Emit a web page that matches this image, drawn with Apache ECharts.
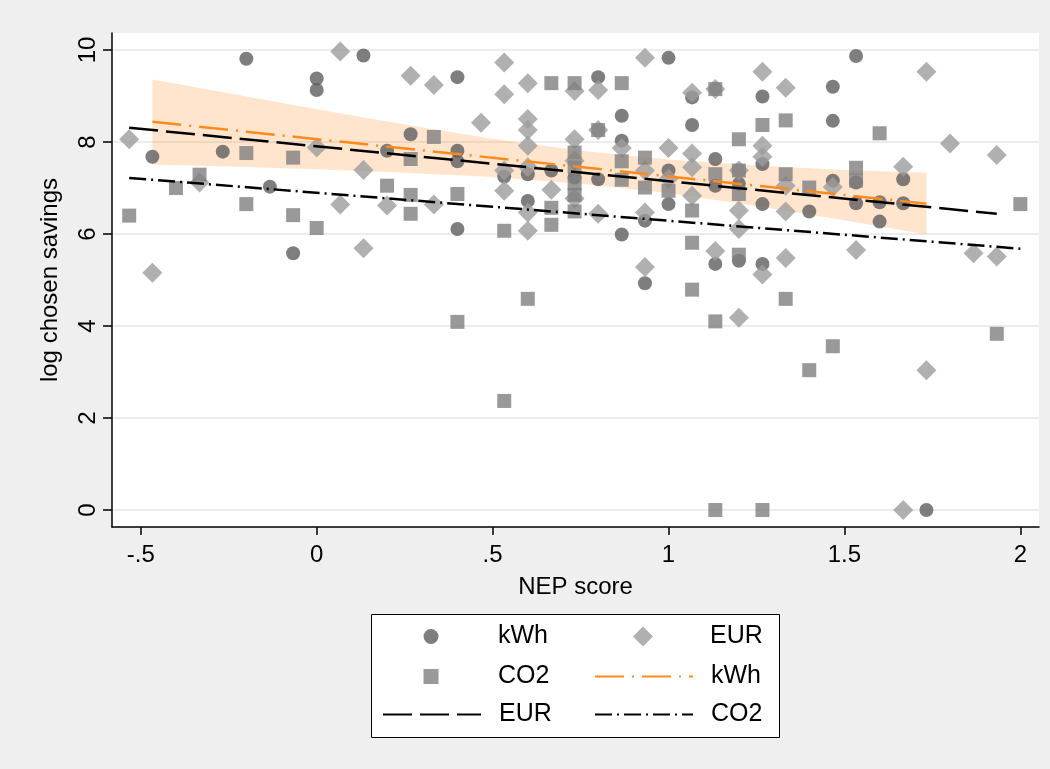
<!DOCTYPE html>
<html>
<head>
<meta charset="utf-8">
<title>log chosen savings by NEP score</title>
<script src="https://cdn.jsdelivr.net/npm/echarts@6.0.0/dist/echarts.min.js"></script>
<style>
  html, body { margin: 0; padding: 0; background: #efefef; }
  #chart { width: 1050px; height: 769px; }
</style>
</head>
<body>
<div id="chart"></div>
<script>
let FONT = '"Liberation Sans", Arial, sans-serif';

// tick labels (Stata style)
let xTickValues = [-0.5, 0, 0.5, 1, 1.5, 2];
let xTickLabels = ['-.5', '0', '.5', '1', '1.5', '2'];
let yTickValues = [0, 2, 4, 6, 8, 10];
let yTickLabels = ['0', '2', '4', '6', '8', '10'];

// scatter points [NEP score, log chosen savings]
let kwhPoints = [
  [-0.467, 7.68], [-0.267, 7.79], [-0.2, 9.81], [-0.133, 7.03], [-0.067, 5.58],
  [0, 9.38], [0, 9.13], [0.133, 9.88], [0.2, 7.81], [0.267, 8.17],
  [0.4, 9.41], [0.4, 7.81], [0.4, 7.58], [0.4, 6.11], [0.533, 7.25],
  [0.6, 7.3], [0.6, 6.72], [0.667, 7.38], [0.733, 7.23], [0.8, 9.41],
  [0.8, 7.19], [0.867, 8.57], [0.867, 8.03], [0.867, 5.99], [0.933, 6.29],
  [0.933, 4.93], [1.0, 9.83], [1.0, 7.38], [1.0, 6.65], [1.067, 8.97],
  [1.067, 8.37], [1.133, 7.63], [1.133, 7.05], [1.133, 5.35], [1.2, 7.09],
  [1.2, 5.42], [1.267, 8.99], [1.267, 7.52], [1.267, 6.65], [1.267, 5.35],
  [1.4, 6.49], [1.467, 9.2], [1.467, 8.46], [1.467, 7.16], [1.533, 9.87],
  [1.533, 7.12], [1.533, 6.67], [1.6, 6.69], [1.6, 6.27], [1.667, 7.19],
  [1.667, 6.67], [1.733, 0]
];
let eurPoints = [
  [-0.533, 8.06], [-0.467, 5.16], [-0.333, 7.12], [0, 7.88], [0.067, 9.97],
  [0.067, 6.64], [0.133, 7.39], [0.133, 5.69], [0.2, 6.62], [0.267, 9.44],
  [0.333, 9.24], [0.333, 6.64], [0.467, 8.42], [0.533, 9.73], [0.533, 9.04],
  [0.533, 7.38], [0.533, 6.94], [0.6, 9.28], [0.6, 8.5], [0.6, 8.26],
  [0.6, 7.92], [0.6, 7.45], [0.6, 6.47], [0.6, 6.07], [0.667, 6.96],
  [0.733, 9.11], [0.733, 8.06], [0.733, 7.59], [0.733, 6.77], [0.8, 9.13],
  [0.8, 8.26], [0.8, 6.44], [0.867, 7.87], [0.933, 9.83], [0.933, 7.38],
  [0.933, 6.47], [0.933, 5.28], [1.0, 7.87], [1.0, 7.2], [1.067, 9.07],
  [1.067, 7.75], [1.067, 7.45], [1.067, 6.83], [1.133, 9.15], [1.133, 5.63],
  [1.2, 7.38], [1.2, 6.51], [1.2, 6.11], [1.2, 4.18], [1.267, 9.53],
  [1.267, 7.92], [1.267, 7.68], [1.267, 5.12], [1.333, 9.18], [1.333, 7.05],
  [1.333, 6.49], [1.333, 5.48], [1.467, 7.02], [1.533, 5.65], [1.667, 7.46],
  [1.667, 0], [1.733, 9.53], [1.733, 3.04], [1.8, 7.97], [1.867, 5.58],
  [1.933, 7.72], [1.933, 5.51]
];
let co2Points = [
  [-0.533, 6.4], [-0.4, 7.0], [-0.333, 7.29], [-0.2, 7.76], [-0.2, 6.65],
  [-0.067, 7.66], [-0.067, 6.41], [0, 6.13], [0.2, 7.05], [0.267, 7.63],
  [0.267, 6.85], [0.267, 6.44], [0.333, 8.11], [0.4, 6.87], [0.4, 4.09],
  [0.533, 6.07], [0.533, 2.37], [0.6, 4.59], [0.667, 9.28], [0.667, 6.57],
  [0.667, 6.2], [0.733, 9.28], [0.733, 7.77], [0.733, 7.45], [0.733, 7.1],
  [0.733, 6.85], [0.733, 6.49], [0.8, 8.26], [0.867, 9.28], [0.867, 7.58],
  [0.867, 7.18], [0.933, 7.66], [0.933, 7.01], [1.0, 6.94], [1.067, 6.51],
  [1.067, 5.81], [1.067, 4.79], [1.133, 9.15], [1.133, 7.3], [1.133, 4.1],
  [1.133, 0], [1.2, 8.06], [1.2, 7.38], [1.2, 6.87], [1.2, 5.55],
  [1.267, 8.37], [1.267, 0], [1.333, 8.47], [1.333, 7.3], [1.333, 4.59],
  [1.4, 7.01], [1.4, 3.04], [1.467, 3.56], [1.533, 7.44], [1.533, 7.16],
  [1.6, 8.19], [1.933, 3.83], [2.0, 6.65]
];

// linear fits (end points)
let kwhFit = [[-0.467, 8.44], [1.733, 6.66]];
let eurFit = [[-0.533, 8.31], [1.933, 6.44]];
let co2Fit = [[-0.533, 7.22], [2.0, 5.68]];

// 95% CI band of the kWh fit
let bandX = [-0.467, -0.25, 0, 0.25, 0.5, 0.75, 1.0, 1.25, 1.5, 1.733];
let bandUpper = [9.36, 9.06, 8.71, 8.38, 8.07, 7.81, 7.62, 7.49, 7.39, 7.33];
let bandLower = [7.51, 7.47, 7.41, 7.33, 7.24, 7.09, 6.89, 6.61, 6.30, 5.99];

let chart = echarts.init(document.getElementById('chart'), null, { renderer: 'canvas' });

// legend keys are 98px wide; marker keys get a box of their own size,
// centred in that slot, with text padding so labels still line up
let KEY_W = 98;
function legendItem(name, keyLeft, top, size, isLine) {
  let l = {
    data: [name],
    top: top,
    padding: 0,
    itemHeight: size,
    selectedMode: false,
    formatter: function (n) { return n.replace(' fit', ''); },
    textStyle: { fontFamily: FONT, fontSize: 25, color: '#000' }
  };
  if (isLine) {
    l.left = keyLeft;
    l.itemWidth = KEY_W;
    l.itemStyle = { opacity: 0 };
    l.textStyle.padding = [0, 0, 0, 13];
  } else {
    l.left = keyLeft + (KEY_W - size) / 2;
    l.itemWidth = size;
    l.textStyle.padding = [0, 0, 0, 13 + (KEY_W - size) / 2];
  }
  return l;
}

let option = {
  animation: false,
  backgroundColor: '#efefef',
  textStyle: { fontFamily: FONT },
  grid: {
    left: 112, top: 33, right: 11, bottom: 242,
    show: true, backgroundColor: '#ffffff', borderWidth: 0
  },
  xAxis: {
    type: 'value',
    min: -0.5818, max: 2.053,
    name: 'NEP score',
    nameLocation: 'middle',
    nameGap: 48,
    nameTextStyle: { fontSize: 24, color: '#000', fontFamily: FONT },
    axisLine: { show: true, onZero: false, lineStyle: { color: '#000', width: 1.5 } },
    axisTick: { show: true, length: 8, customValues: xTickValues, lineStyle: { color: '#000', width: 1.5 } },
    axisLabel: {
      customValues: xTickValues,
      margin: 16,
      fontSize: 24, color: '#000', fontFamily: FONT,
      formatter: function (v) {
        let i = xTickValues.indexOf(v);
        return i >= 0 ? xTickLabels[i] : '';
      }
    },
    splitLine: { show: false }
  },
  yAxis: {
    type: 'value',
    min: -0.37, max: 10.37,
    name: 'log chosen savings',
    nameLocation: 'middle',
    nameRotate: 90,
    nameGap: 50,
    nameTextStyle: { fontSize: 24, color: '#000', fontFamily: FONT },
    axisLine: { show: true, onZero: false, lineStyle: { color: '#000', width: 1.5 } },
    axisTick: { show: true, length: 9, customValues: yTickValues, lineStyle: { color: '#000', width: 1.5 } },
    axisLabel: {
      customValues: yTickValues,
      rotate: 90,
      margin: 12,
      fontSize: 24, color: '#000', fontFamily: FONT,
      formatter: function (v) {
        let i = yTickValues.indexOf(v);
        return i >= 0 ? yTickLabels[i] : '';
      }
    },
    splitLine: { show: true, lineStyle: { color: '#e6e6e6', width: 1.5 } }
  },
  legend: [
    legendItem('kWh', 382, 624, 15, false),
    legendItem('EUR', 594, 624, 20, false),
    legendItem('CO2', 382, 664, 15, false),
    legendItem('kWh fit', 594, 664, 14, true),
    legendItem('EUR fit', 382, 702, 14, true),
    legendItem('CO2 fit', 594, 702, 14, true)
  ],
  graphic: [{
    type: 'rect',
    left: 371, top: 614, z: 1,
    shape: { width: 408, height: 123 },
    style: { fill: '#ffffff', stroke: '#000', lineWidth: 1 }
  }],
  series: [
    {
      name: 'kWh', type: 'scatter', data: kwhPoints,
      symbol: 'circle', symbolSize: 14,
      itemStyle: { color: '#5e5e5e' }
    },
    {
      name: 'EUR', type: 'scatter', data: eurPoints,
      symbol: 'diamond', symbolSize: 20,
      itemStyle: { color: '#9c9c9c' }
    },
    {
      name: 'CO2', type: 'scatter', data: co2Points,
      symbol: 'rect', symbolSize: 14,
      itemStyle: { color: '#7f7f7f' }
    },
    {
      name: 'kWh CI', type: 'custom', silent: true,
      data: bandX.map(function (x, i) { return [x, bandUpper[i], bandLower[i]]; }),
      encode: { x: 0, y: [1, 2] },
      renderItem: function (params, api) {
        if (params.dataIndex !== 0) return;
        let pts = [];
        for (let i = 0; i < bandX.length; i++) pts.push(api.coord([bandX[i], bandUpper[i]]));
        for (let i = bandX.length - 1; i >= 0; i--) pts.push(api.coord([bandX[i], bandLower[i]]));
        return {
          type: 'polygon',
          shape: { points: pts },
          style: { fill: 'rgba(255, 138, 28, 0.22)' }
        };
      }
    },
    {
      name: 'kWh fit', type: 'line', data: kwhFit,
      symbol: 'none', color: '#ff8a1c',
      lineStyle: { color: '#ff8a1c', width: 2.5, type: [29, 8, 2, 8] }
    },
    {
      name: 'EUR fit', type: 'line', data: eurFit,
      symbol: 'none', color: '#000',
      lineStyle: { color: '#000', width: 2.5, type: [29, 8] }
    },
    {
      name: 'CO2 fit', type: 'line', data: co2Fit,
      symbol: 'none', color: '#000',
      lineStyle: { color: '#000', width: 2.5, type: [17, 5, 2, 5] }
    }
  ]
};

chart.setOption(option);
</script>
</body>
</html>
